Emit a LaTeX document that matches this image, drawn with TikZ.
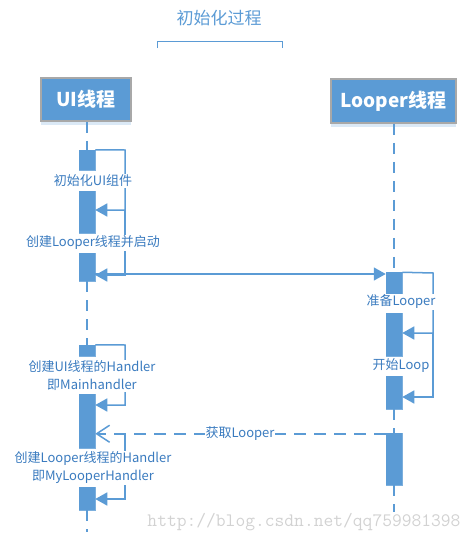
\documentclass[tikz,border=0pt]{standalone}
\usepackage{fontspec}
\setmainfont{Noto Sans CJK SC}
\usetikzlibrary{arrows.meta,shadows}
\definecolor{lb}{HTML}{5B9BD5}
\definecolor{tb}{HTML}{3A7BBF}
\definecolor{wm}{HTML}{D2D2D2}
\definecolor{bord}{HTML}{A8A8A8}
\begin{document}
\begin{tikzpicture}[x=1pt,y=-1pt,
  thread/.style={draw=bord, line width=1.5pt, fill=lb, text=white,
    font=\bfseries\fontsize{19}{22}\selectfont, inner sep=0pt,
    drop shadow={shadow xshift=0pt, shadow yshift=-4pt, opacity=0.22, fill=lb}},
  bar/.style={fill=lb, draw=lb!80!white, line width=0.5pt, minimum width=16pt, inner sep=0pt},
  life/.style={draw=lb, line width=1.5pt, dash pattern=on 11pt off 8pt},
  ln/.style={draw=lb, line width=1.5pt},
  tip/.style={-{Triangle[length=12pt,width=13pt]}},
  ret/.style={draw=lb, line width=1.5pt, dash pattern=on 12pt off 8pt, -{Straight Barb[length=13pt,width=17pt]}},
  lab/.style={fill=white, text=tb, font=\fontsize{13}{18}\selectfont, inner sep=1pt, align=center},
  ttl/.style={text=lb, font=\fontsize{17}{20}\selectfont, inner sep=0pt},
  wmark/.style={text=wm, font=\ttfamily\fontsize{19}{22}\selectfont, inner sep=0pt}
]
\useasboundingbox (0,0) rectangle (475,542);

% title and bracket
\node[ttl] (title) at (219,18) {初始化过程};
\draw[lb, line width=1pt] (157,48) -- (157,41) -- (282,41) -- (282,48);

% thread heads
\node[thread, minimum width=90pt, minimum height=43pt] (ui) at (86,99.5) {UI线程};
\node[thread, minimum width=125pt, minimum height=44pt] (lp) at (393.5,101) {Looper线程};

% activation bars (positions only, drawn later on top)
\path
  node[bar, minimum height=20pt] (u1) at (87,160) {}
  node[bar, minimum height=42pt] (u2) at (87,212) {}
  node[bar, minimum height=28pt] (u3) at (87,267) {}
  node[bar, minimum height=11pt] (u4) at (87,350.5) {}
  node[bar, minimum height=54pt] (u5) at (87,421) {}
  node[bar, minimum height=23pt] (u6) at (87,498.5) {}
  node[bar, minimum height=21pt] (l1) at (394,283) {}
  node[bar, minimum height=43pt] (l2) at (394,334.5) {}
  node[bar, minimum height=33pt] (l3) at (394,392.5) {}
  node[bar, minimum height=52pt] (l4) at (394,459) {};

% lifelines
\draw[life] (u1.north |- ui.south) -- (u1.north);
\draw[life] (u3.south) -- (u4.north);
\draw[life] (u6.south) -- (87,532);
\draw[life] (l1.north |- lp.south) -- (l1.north);
\draw[life] (l3.south) -- (l4.north);
\draw[life] (l4.south) -- (394,512);

% self messages UI
\draw[ln, tip] (u1.north east) -- (125,150) -- (125,210) -- (u2.east |- 0,210);
\draw[ln, tip] (125,210) -- (125,275) -- (u3.east |- 0,275);
\draw[ln, tip] (u4.north east) -- (125,345) -- (125,405) -- (u5.east |- 0,405);
\draw[ln, tip] (125,434) -- (125,499) -- (u6.east |- 0,499);

% message UI -> Looper
\draw[ln, tip] (u3.east |- 0,274) -- (l1.west |- 0,274);

% self messages Looper
\draw[ln, tip] (l1.north east) -- (433,273) -- (433,333) -- (l2.east |- 0,333);
\draw[ln, tip] (433,333) -- (433,397) -- (l3.east |- 0,397);

% return message
\draw[ret] (l4.north west) ++(0,1) coordinate (r0) (r0) -- (u5.east |- r0);

% labels
\node[lab] (t1) at (93,181) {初始化UI组件};
\node[lab] (t2) at (93,243) {创建Looper线程并启动};
\node[lab] (t3) at (401,302) {准备Looper};
\node[lab] (t4) at (401,366) {开始Loop};
\node[lab] (t5) at (92,375.5) {创建UI线程的Handler\\即Mainhandler};
\node[lab] (t6) at (93,468) {创建Looper线程的Handler\\即MyLooperHandler};
\node[lab] (t7) at (240,434) {获取Looper};

% bars on top
\foreach \b in {u1,u2,u3,u4,u5,u6,l1,l2,l3,l4}
  \fill[lb] (\b.north west) rectangle (\b.south east);

% watermark
\node[wmark] (wm) at (304,522) {http://blog.csdn.net/qq759981398};
\end{tikzpicture}
\end{document}
